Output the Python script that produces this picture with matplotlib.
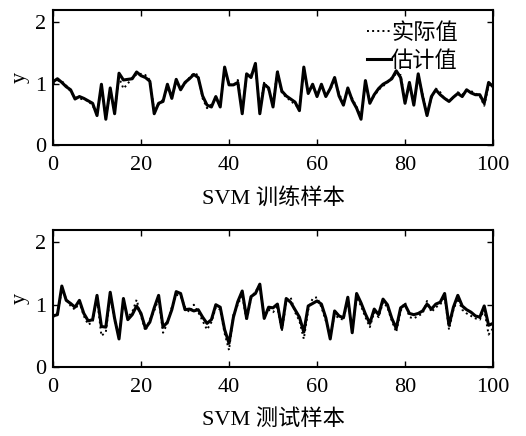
import matplotlib
matplotlib.use("Agg")
import matplotlib.pyplot as plt
import numpy as np

plt.rcParams['font.family'] = ['Liberation Serif', 'Noto Sans CJK SC', 'DejaVu Sans']
plt.rcParams['font.size'] = 16

samples = list(range(101))
x_ticks = [0, 20, 40, 60, 80, 100]
y_ticks = [0, 1, 2]

train_est = [1.03, 1.08, 1.02, 0.95, 0.90, 0.75, 0.79, 0.76, 0.72, 0.68,
             0.48, 0.99, 0.42, 0.93, 0.51, 1.17, 1.06, 1.07, 1.08, 1.19,
             1.13, 1.10, 1.04, 0.51, 0.68, 0.71, 0.99, 0.76, 1.07, 0.90,
             1.02, 1.08, 1.15, 1.10, 0.80, 0.65, 0.62, 0.79, 0.62, 1.27,
             0.98, 0.98, 1.02, 0.51, 1.16, 1.10, 1.33, 0.51, 0.99, 0.93,
             0.62, 1.19, 0.88, 0.80, 0.75, 0.70, 0.56, 1.27, 0.84, 0.99,
             0.79, 0.99, 0.79, 0.92, 1.10, 0.80, 0.65, 0.93, 0.73, 0.60,
             0.42, 1.05, 0.68, 0.82, 0.92, 0.99, 1.03, 1.08, 1.21, 1.10,
             0.68, 1.02, 0.65, 1.16, 0.79, 0.48, 0.79, 0.90, 0.82, 0.76,
             0.71, 0.78, 0.84, 0.79, 0.90, 0.85, 0.82, 0.82, 0.68, 1.02,
             0.95]
train_act = [1.00, 1.05, 1.04, 0.97, 0.87, 0.78, 0.76, 0.74, 0.72, 0.64,
             0.52, 0.94, 0.45, 0.88, 0.55, 1.10, 0.92, 1.00, 1.10, 1.15,
             1.16, 1.14, 1.06, 0.55, 0.66, 0.74, 0.93, 0.80, 1.02, 0.93,
             1.00, 1.10, 1.17, 1.14, 0.76, 0.60, 0.66, 0.76, 0.66, 1.22,
             1.00, 0.96, 1.06, 0.55, 1.12, 1.14, 1.28, 0.55, 1.03, 0.90,
             0.66, 1.22, 0.85, 0.78, 0.72, 0.66, 0.60, 1.22, 0.88, 0.96,
             0.82, 0.96, 0.82, 0.90, 1.06, 0.84, 0.68, 0.90, 0.76, 0.62,
             0.46, 1.00, 0.72, 0.80, 0.90, 0.96, 1.02, 1.10, 1.16, 1.14,
             0.72, 0.98, 0.68, 1.12, 0.82, 0.52, 0.76, 0.92, 0.86, 0.74,
             0.74, 0.76, 0.86, 0.82, 0.88, 0.88, 0.84, 0.80, 0.64, 0.98,
             0.98]
test_est = [0.82, 0.84, 1.30, 1.07, 1.02, 0.96, 1.07, 0.86, 0.74, 0.76,
            1.15, 0.65, 0.64, 1.20, 0.78, 0.45, 1.10, 0.76, 0.84, 0.98,
            0.86, 0.62, 0.72, 0.95, 1.15, 0.64, 0.72, 0.92, 1.21, 1.18,
            0.92, 0.93, 0.90, 0.92, 0.80, 0.70, 0.76, 1.00, 0.96, 0.60,
            0.38, 0.80, 1.05, 1.22, 0.78, 1.13, 1.18, 1.33, 0.78, 0.96,
            0.95, 1.01, 0.62, 1.10, 1.04, 0.92, 0.80, 0.56, 0.98, 1.02,
            1.06, 1.01, 0.79, 0.45, 0.90, 0.82, 0.79, 1.12, 0.55, 1.18,
            1.03, 0.85, 0.70, 0.93, 0.84, 1.09, 1.00, 0.78, 0.62, 0.95,
            1.00, 0.86, 0.84, 0.86, 0.90, 1.01, 0.93, 1.01, 1.04, 1.18,
            0.67, 0.96, 1.15, 0.98, 0.92, 0.88, 0.82, 0.80, 0.98, 0.67,
            0.70]
test_act = [0.80, 0.86, 1.24, 1.10, 0.98, 0.92, 1.04, 0.82, 0.68, 0.72,
            1.10, 0.50, 0.56, 1.14, 0.74, 0.50, 1.04, 0.80, 0.88, 1.08,
            0.82, 0.58, 0.76, 0.90, 1.10, 0.55, 0.70, 0.96, 1.16, 1.14,
            0.96, 0.88, 1.00, 0.88, 0.74, 0.60, 0.72, 0.96, 0.92, 0.54,
            0.27, 0.84, 1.00, 1.16, 0.74, 1.10, 1.22, 1.28, 0.82, 0.92,
            0.88, 0.96, 0.58, 1.04, 1.12, 0.88, 0.74, 0.45, 0.92, 1.10,
            1.12, 0.96, 0.74, 0.50, 0.84, 0.78, 0.76, 1.08, 0.60, 1.12,
            0.98, 0.80, 0.64, 0.88, 0.80, 1.04, 0.96, 0.74, 0.56, 0.90,
            1.04, 0.80, 0.78, 0.82, 0.86, 1.06, 0.88, 0.96, 1.00, 1.14,
            0.60, 0.92, 1.10, 0.92, 0.86, 0.82, 0.78, 0.76, 0.92, 0.52,
            0.62]

legend_labels = ['实际值', '估计值']
xlabels = ['SVM 训练样本', 'SVM 测试样本']

fig = plt.figure(figsize=(5.26, 4.36), dpi=100)
ax1 = fig.add_axes([0.1008, 0.6674, 0.8365, 0.3096])
ax2 = fig.add_axes([0.1008, 0.1583, 0.8365, 0.3142])

for ax, act, est, xl in [(ax1, train_act, train_est, xlabels[0]),
                         (ax2, test_act, test_est, xlabels[1])]:
    l1, = ax.plot(samples, act, linestyle=':', color='black', linewidth=1.4)
    l2, = ax.plot(samples, est, linestyle='-', color='black', linewidth=2.2)
    ax.set_xlim(0, 100)
    ax.set_ylim(0, 2.2)
    ax.set_xticks(x_ticks)
    ax.set_yticks(y_ticks)
    ax.tick_params(direction='in', top=True, right=True, length=4, width=1,
                   labelsize=16)
    ax.tick_params(axis='x', pad=8)
    ax.tick_params(axis='y', pad=5)
    for s in ax.spines.values():
        s.set_linewidth(1.5)
    ax.set_xlabel(xl, fontsize=16, labelpad=9)
    ax.set_ylabel('y', fontsize=16, labelpad=4)
    if ax is ax1:
        ax.legend([l1, l2], legend_labels, loc='upper right',
                  bbox_to_anchor=(0.92, 0.9), frameon=False,
                  handlelength=1.1, handletextpad=0.0, borderpad=0,
                  borderaxespad=0, labelspacing=0.3, fontsize=16)

fig.savefig('out.png', dpi=100)
